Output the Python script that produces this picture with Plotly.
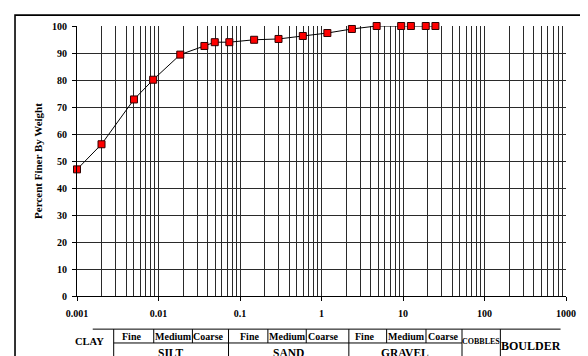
import plotly.graph_objects as go

# ---- data ----
grain_size_mm = [0.001, 0.002, 0.005, 0.0086, 0.0185, 0.0366, 0.049, 0.074,
                 0.149, 0.297, 0.59, 1.18, 2.36, 4.75, 9.5, 12.5, 19.0, 25.0]
percent_finer = [46.9, 56.2, 72.8, 80.1, 89.4, 92.6, 94.0, 94.0,
                 94.9, 95.2, 96.3, 97.4, 98.9, 100, 100, 100, 100, 100]
x_tick_vals = [0.001, 0.01, 0.1, 1, 10, 100, 1000]
x_tick_text = ["0.001", "0.01", "0.1", "1", "10", "100", "1000"]
y_tick_vals = [0, 10, 20, 30, 40, 50, 60, 70, 80, 90, 100]
y_title = "Percent Finer By Weight"

# classification table labels
sub_labels = ["Fine", "Medium", "Coarse", "Fine", "Medium", "Coarse", "Fine", "Medium", "Coarse"]
main_labels = ["SILT", "SAND", "GRAVEL"]

minor_vals = [m * 10 ** e for e in range(-3, 3) for m in range(2, 10)]

# page body has an 8px margin; figure is sized to fill the rest of the window
OFF = 8
WIN_W, WIN_H = 588, 356
W, H = WIN_W - OFF, WIN_H - OFF
PLOT_L, PLOT_R, PLOT_T, PLOT_B = 77, 574, 23, 296  # window pixels
L, R, T, B = PLOT_L - OFF, WIN_W - PLOT_R, PLOT_T - OFF, WIN_H - PLOT_B
PW, PH = PLOT_R - PLOT_L, PLOT_B - PLOT_T


def xp(px):
    return (px - PLOT_L) / PW


def yp(py):
    return (PLOT_B - py) / PH


SERIF = "Liberation Serif"
GRID = "#2a2a2a"

fig = go.Figure()
fig.add_trace(go.Scatter(
    x=grain_size_mm, y=percent_finer, mode="lines+markers",
    line=dict(color="black", width=1),
    marker=dict(symbol="square", size=7, color="#ff0000",
                line=dict(color="#300000", width=1)),
    cliponaxis=False, showlegend=False,
))

fig.update_layout(
    width=W, height=H,
    margin=dict(l=L, r=R, t=T, b=B, pad=0),
    paper_bgcolor="white", plot_bgcolor="white",
    font=dict(family=SERIF, size=10, color="black"),
    xaxis=dict(
        type="log", range=[-3, 3],
        tickmode="array", tickvals=x_tick_vals, ticktext=x_tick_text,
        tickfont=dict(family=SERIF, size=10, color="black", weight="bold"),
        ticks="outside", ticklen=4, tickcolor="black", tickwidth=1,
        ticklabelstandoff=4,
        showline=True, linecolor="black", linewidth=1,
        showgrid=True, gridcolor=GRID, gridwidth=1,
        minor=dict(tickmode="array", tickvals=minor_vals, showgrid=True,
                   gridcolor=GRID, gridwidth=1, ticks=""),
        zeroline=False,
    ),
    yaxis=dict(
        range=[0, 100], tickmode="array", tickvals=y_tick_vals,
        tickfont=dict(family=SERIF, size=10, color="black", weight="bold"),
        ticks="outside", ticklen=4, tickcolor="black", tickwidth=1,
        ticklabelstandoff=3,
        showline=True, linecolor="black", linewidth=1,
        showgrid=True, gridcolor=GRID, gridwidth=1,
        zeroline=False,
        title=dict(text=y_title, standoff=7,
                   font=dict(family=SERIF, size=11, color="black", weight="bold")),
    ),
)

shapes = []
# outer frame
shapes.append(dict(type="rect", xref="paper", yref="paper",
                   x0=xp(14), x1=xp(600), y0=yp(12), y1=yp(370),
                   line=dict(color="black", width=1.6), layer="above"))


def hline(x0, x1, y):
    shapes.append(dict(type="line", xref="paper", yref="paper",
                       x0=xp(x0), x1=xp(x1), y0=yp(y), y1=yp(y),
                       line=dict(color="black", width=1)))


def vline(x, y0, y1):
    shapes.append(dict(type="line", xref="paper", yref="paper",
                       x0=xp(x), x1=xp(x), y0=yp(y0), y1=yp(y1),
                       line=dict(color="black", width=1)))


top_y, mid_y, bot_y = 329.5, 343.5, 362
hline(93, 568.5, top_y)
hline(114.3, 468.3, mid_y)
for x in [114.3, 231, 353.3, 468.3, 507.3]:
    vline(x, top_y, bot_y)
for x in [155, 194.3, 271, 310, 391.7, 431.7]:
    vline(x, top_y, mid_y)
fig.update_layout(shapes=shapes)

ann = []


def text(x, y, s, size, weight="bold"):
    ann.append(dict(xref="paper", yref="paper", x=xp(x), y=yp(y), text=s,
                    showarrow=False, xanchor="center", yanchor="middle",
                    font=dict(family=SERIF, size=size, color="black", weight=weight)))


sub_x = [132, 175, 211, 252, 291, 328, 369, 412, 450]
for sx, s in zip(sub_x, sub_labels):
    text(sx, 336.5, s, 10)
for mx, s in zip([172.5, 292, 410.7], main_labels):
    text(mx, 353.5, s, 11.5)
text(90, 342.5, "CLAY", 10.5)
text(488, 342.3, "COBBLES", 8)
text(538, 346.5, "BOULDER", 12)
fig.update_layout(annotations=ann)

fig.write_html("out.html")
